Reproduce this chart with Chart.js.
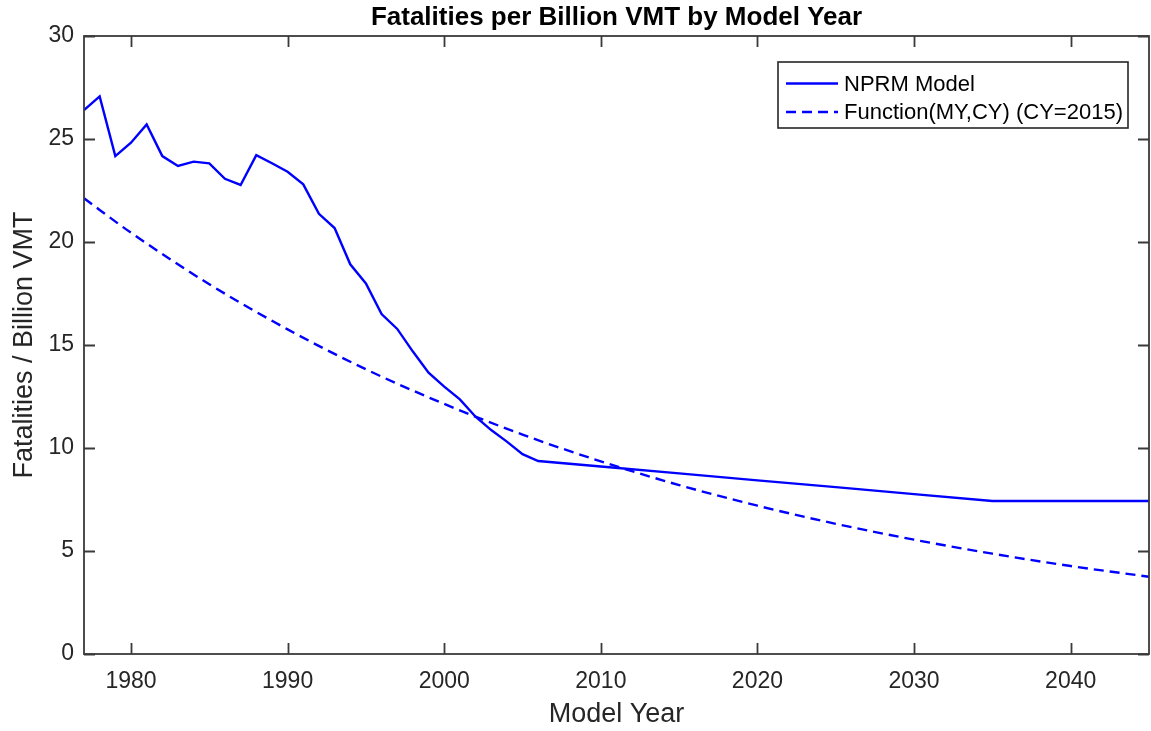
<!DOCTYPE html>
<html>
<head>
<meta charset="utf-8">
<script src="https://cdn.jsdelivr.net/npm/chart.js@4.4.1/dist/chart.umd.min.js"></script>
<style>
  html, body { margin: 0; padding: 0; background: #ffffff; }
  #wrap { width: 1151px; height: 731px; }
</style>
</head>
<body>
<div id="wrap"><canvas id="chart" width="1151" height="731"></canvas></div>
<script>
// NPRM model rates by model year
const nprmYears = [1977, 1978, 1979, 1980, 1981, 1982, 1983, 1984, 1985, 1986,
                   1987, 1988, 1989, 1990, 1991, 1992, 1993, 1994, 1995, 1996,
                   1997, 1998, 1999, 2000, 2001, 2002, 2003, 2004, 2005, 2006,
                   2010, 2015, 2020, 2025, 2030, 2035, 2040, 2045];
const nprmValues = [26.4, 27.07, 24.17, 24.82, 25.71, 24.17, 23.69, 23.9, 23.82, 23.07,
                    22.77, 24.22, 23.82, 23.41, 22.8, 21.37, 20.68, 18.92, 17.99, 16.5,
                    15.78, 14.68, 13.66, 12.98, 12.36, 11.52, 10.87, 10.31, 9.7, 9.37,
                    9.1, 8.77, 8.43, 8.1, 7.76, 7.43, 7.43, 7.43];

// Function(MY,CY) evaluated for calendar year 2015
const fnYears = [1977, 1980, 1985, 1990, 1995, 2000, 2005, 2010, 2015, 2020, 2025, 2030, 2035, 2040, 2045];
const fnValues = [22.12, 20.45, 17.95, 15.76, 13.82, 12.14, 10.65, 9.35, 8.2, 7.2, 6.32, 5.55, 4.87, 4.27, 3.75];

const xTickValues = [1980, 1990, 2000, 2010, 2020, 2030, 2040];
const yTickValues = [0, 5, 10, 15, 20, 25, 30];

const FONT = "'Liberation Sans', Arial, Helvetica, sans-serif";
const AXIS_COLOR = '#262626';
const LINE_BLUE = '#0000ff';

function toPoints(xs, ys) {
  return xs.map((x, i) => ({ x: x, y: ys[i] }));
}

// MATLAB-style box with inward ticks on all four sides
const boxAxes = {
  id: 'boxAxes',
  afterDatasetsDraw(chart) {
    const { ctx, chartArea: a, scales } = chart;
    const len = 11;
    ctx.save();
    ctx.strokeStyle = '#3a3a3a';
    ctx.lineWidth = 1.8;
    ctx.beginPath();
    scales.x.ticks.forEach(t => {
      const px = Math.round(scales.x.getPixelForValue(t.value)) + 0.5;
      ctx.moveTo(px, a.bottom); ctx.lineTo(px, a.bottom - len);
      ctx.moveTo(px, a.top); ctx.lineTo(px, a.top + len);
    });
    scales.y.ticks.forEach(t => {
      const py = Math.round(scales.y.getPixelForValue(t.value)) + 0.5;
      ctx.moveTo(a.left, py); ctx.lineTo(a.left + len, py);
      ctx.moveTo(a.right, py); ctx.lineTo(a.right - len, py);
    });
    ctx.stroke();
    ctx.strokeRect(a.left, a.top, a.right - a.left, a.bottom - a.top);
    ctx.restore();
  }
};

// Boxed legend in the upper-right corner of the axes
const boxLegend = {
  id: 'boxLegend',
  afterDraw(chart) {
    const { ctx, chartArea: a } = chart;
    const right = a.right - 21, left = right - 350;
    const top = a.top + 26, height = 66;
    ctx.save();
    ctx.fillStyle = '#ffffff';
    ctx.fillRect(left, top, right - left, height);
    ctx.strokeStyle = AXIS_COLOR;
    ctx.lineWidth = 1.6;
    ctx.strokeRect(left, top, right - left, height);
    ctx.font = '22px ' + FONT;
    ctx.textBaseline = 'middle';
    ctx.textAlign = 'left';
    chart.data.datasets.forEach((ds, i) => {
      const cy = top + 21.5 + i * 28.5;
      ctx.strokeStyle = ds.borderColor;
      ctx.lineWidth = ds.borderWidth;
      ctx.setLineDash(ds.borderDash || []);
      ctx.beginPath();
      ctx.moveTo(left + 8, cy);
      ctx.lineTo(left + 60, cy);
      ctx.stroke();
      ctx.setLineDash([]);
      ctx.fillStyle = '#000000';
      ctx.fillText(ds.label, left + 66, cy + 1);
    });
    ctx.restore();
  }
};

new Chart(document.getElementById('chart'), {
  type: 'line',
  data: {
    datasets: [
      {
        label: 'NPRM Model',
        data: toPoints(nprmYears, nprmValues),
        borderColor: LINE_BLUE,
        borderWidth: 2.4,
        pointRadius: 0,
        tension: 0,
        fill: false
      },
      {
        label: 'Function(MY,CY) (CY=2015)',
        data: toPoints(fnYears, fnValues),
        borderColor: LINE_BLUE,
        borderWidth: 2.4,
        borderDash: [10, 6],
        pointRadius: 0,
        cubicInterpolationMode: 'monotone',
        fill: false
      }
    ]
  },
  options: {
    responsive: false,
    animation: false,
    devicePixelRatio: 1,
    layout: { padding: { left: 0, right: 2, top: 0, bottom: 0 } },
    plugins: {
      legend: { display: false },
      tooltip: { enabled: false },
      title: {
        display: true,
        fullSize: false,
        text: 'Fatalities per Billion VMT by Model Year',
        color: '#000000',
        font: { family: FONT, size: 26, weight: 'bold', lineHeight: 1 },
        padding: { top: 5, bottom: 5 }
      }
    },
    scales: {
      x: {
        type: 'linear',
        min: 1977,
        max: 2045,
        afterBuildTicks: s => { s.ticks = xTickValues.map(v => ({ value: v })); },
        afterFit: s => { s.height = 77; },
        grid: { display: false, drawTicks: false },
        border: { display: false },
        ticks: {
          color: AXIS_COLOR,
          padding: 14,
          maxRotation: 0,
          font: { family: FONT, size: 23 },
          callback: v => String(v)
        },
        title: {
          display: true,
          text: 'Model Year',
          color: AXIS_COLOR,
          font: { family: FONT, size: 27 },
          padding: { top: 0, bottom: 0 }
        }
      },
      y: {
        type: 'linear',
        min: 0,
        max: 30,
        afterBuildTicks: s => { s.ticks = yTickValues.map(v => ({ value: v })); },
        afterFit: s => { s.width = 84; },
        grid: { display: false, drawTicks: false },
        border: { display: false },
        ticks: {
          color: AXIS_COLOR,
          padding: 10,
          font: { family: FONT, size: 23 },
          callback: v => String(v)
        },
        title: {
          display: true,
          text: 'Fatalities / Billion VMT',
          color: AXIS_COLOR,
          font: { family: FONT, size: 27 },
          padding: { top: 8, bottom: 0 }
        }
      }
    }
  },
  plugins: [boxAxes, boxLegend]
});
</script>
</body>
</html>
